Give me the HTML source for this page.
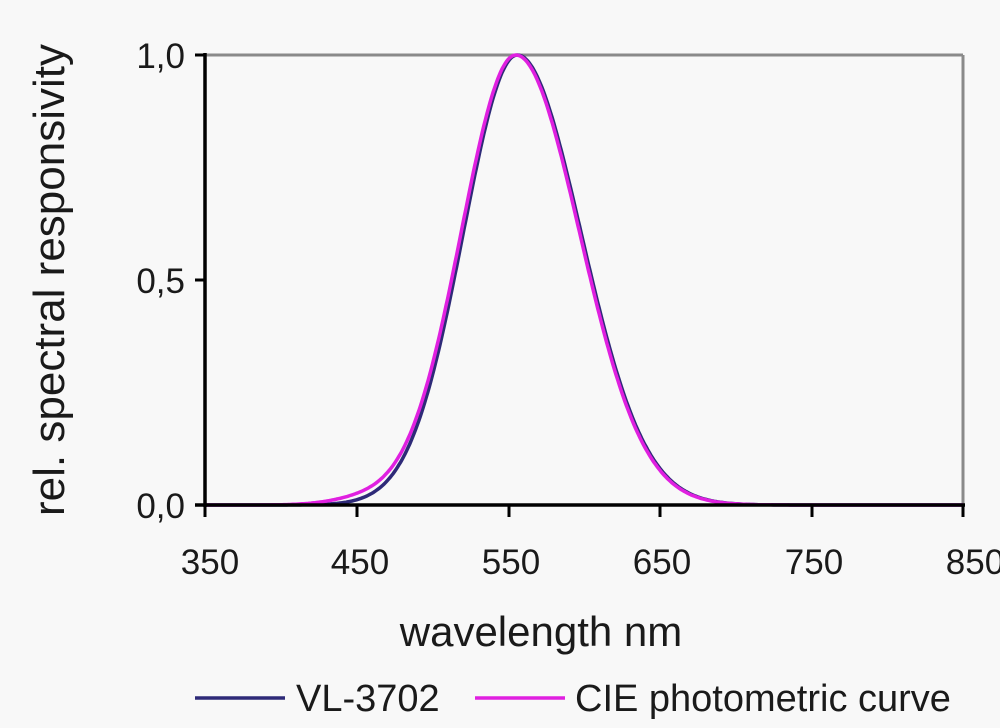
<!DOCTYPE html>
<html><head><meta charset="utf-8"><style>
html,body{margin:0;padding:0;background:#f8f8f8;}
svg{display:block;font-family:"Liberation Sans",Arial,sans-serif;}
</style></head><body>
<svg id="s" width="1000" height="728" viewBox="0 0 1000 728">
<rect width="1000" height="728" fill="#f8f8f8"/>
<line x1="205" y1="55" x2="963" y2="55" stroke="#8a8a8a" stroke-width="3"/>
<line x1="963" y1="55" x2="963" y2="505" stroke="#8a8a8a" stroke-width="3"/>
<path id="vl" fill="none" stroke="#2e2a78" stroke-width="3.5"/>
<path id="cie" fill="none" stroke="#e020e0" stroke-width="3.5"/>
<line x1="205" y1="53" x2="205" y2="507" stroke="#000" stroke-width="3.5"/>
<line x1="195" y1="505" x2="965" y2="505" stroke="#000" stroke-width="3.5"/>
<g stroke="#000" stroke-width="3">
<line x1="195" y1="55" x2="205" y2="55"/><line x1="195" y1="280" x2="205" y2="280"/>
<line x1="205" y1="505" x2="205" y2="517"/><line x1="357" y1="505" x2="357" y2="517"/>
<line x1="509" y1="505" x2="509" y2="517"/><line x1="660" y1="505" x2="660" y2="517"/>
<line x1="812" y1="505" x2="812" y2="517"/><line x1="963" y1="505" x2="963" y2="517"/>
</g>
<g font-size="35" fill="#1a1a1a" text-anchor="end">
<text x="185" y="68">1,0</text><text x="185" y="293">0,5</text><text x="185" y="518">0,0</text>
</g>
<g font-size="35" fill="#1a1a1a" text-anchor="middle">
<text x="210" y="574">350</text><text x="360" y="574">450</text><text x="511" y="574">550</text>
<text x="662" y="574">650</text><text x="814" y="574">750</text><text x="975" y="574">850</text>
</g>
<text x="541" y="646" font-size="42" fill="#1a1a1a" text-anchor="middle">wavelength nm</text>
<text transform="translate(64,280) rotate(-90)" font-size="44" fill="#1a1a1a" text-anchor="middle">rel. spectral responsivity</text>
<line x1="195" y1="698" x2="285" y2="698" stroke="#2e2a78" stroke-width="3.5"/>
<text x="296" y="711" font-size="38" fill="#1a1a1a">VL-3702</text>
<line x1="475" y1="698" x2="565" y2="698" stroke="#e020e0" stroke-width="3.5"/>
<text x="575" y="711" font-size="38" fill="#1a1a1a">CIE photometric curve</text>
</svg>
<script>
function px(l){return 205+(l-350)*(758/500);}
function py(v){return 505-v*450;}
function mk(sl,sr,pk,tail){var d="";for(var l=350;l<=850;l+=1){var s=l<pk?sl:sr;var v=Math.exp(-(l-pk)*(l-pk)/(2*s*s));if(l<pk)v+=tail*Math.exp(-(l-455)*(l-455)/(2*22*22));d+=(l==350?"M":"L")+px(l).toFixed(1)+" "+py(v).toFixed(1);}return d;}
document.getElementById("cie").setAttribute("d",mk(36,42,555,0.012));
document.getElementById("vl").setAttribute("d",mk(35.5,42,556,0));
</script>
</body></html>
